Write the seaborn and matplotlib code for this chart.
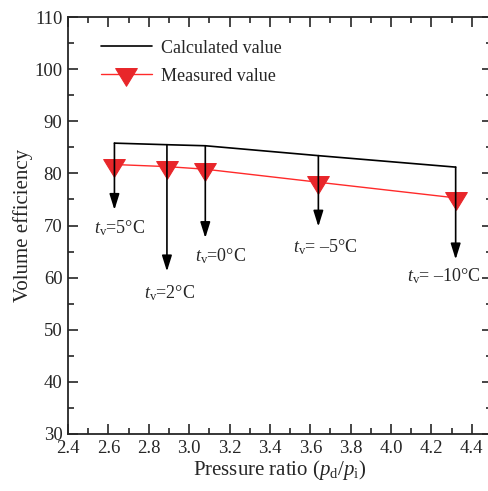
import matplotlib
matplotlib.use("Agg")
import matplotlib.pyplot as plt
import seaborn as sns
import pandas as pd
from matplotlib.path import Path

# Data
pressure_ratio = [2.63, 2.89, 3.08, 3.64, 4.32]
calculated = [85.8, 85.5, 85.3, 83.4, 81.2]
measured = [81.7, 81.3, 80.8, 78.3, 75.3]
arrow_tips = [73.0, 61.2, 67.6, 69.8, 63.5]
temp_labels = [r"$t_\mathrm{v}$=5°C", r"$t_\mathrm{v}$=2°C", r"$t_\mathrm{v}$=0°C",
               r"$t_\mathrm{v}$= –5°C", r"$t_\mathrm{v}$= –10°C"]
label_x = [2.53, 2.775, 3.03, 3.515, 4.08]
label_y = [69.5, 57.0, 64.1, 65.9, 60.2]

x_ticks = [2.4, 2.6, 2.8, 3.0, 3.2, 3.4, 3.6, 3.8, 4.0, 4.2, 4.4]
y_ticks = [30, 40, 50, 60, 70, 80, 90, 100, 110]

sns.set_style("ticks")
plt.rcParams["font.family"] = ["Liberation Serif", "DejaVu Serif"]
plt.rcParams["mathtext.fontset"] = "custom"
plt.rcParams["mathtext.rm"] = "Liberation Serif"
plt.rcParams["mathtext.it"] = "Liberation Serif:italic"

df = pd.DataFrame({"x": pressure_ratio, "calc": calculated, "meas": measured})

fig = plt.figure(figsize=(4.89, 4.91), dpi=100)
ax = fig.add_axes([68 / 489, 57 / 491, 424 / 489, 417 / 491])

# Downward triangle with its centroid on the data point
tri = Path([(-1, 0.55), (1, 0.55), (0, -1.09), (-1, 0.55)],
           [Path.MOVETO, Path.LINETO, Path.LINETO, Path.CLOSEPOLY])

sns.lineplot(data=df, x="x", y="calc", ax=ax, color="black", lw=1.2,
             label="Calculated value")
sns.lineplot(data=df, x="x", y="meas", ax=ax, color="#ff2a2a", lw=1.0,
             marker=tri, markersize=17, markerfacecolor="#e8262a",
             markeredgecolor="#e8262a", label="Measured value")

for x, top, tip, lab, lx, ly in zip(pressure_ratio, calculated, arrow_tips,
                                    temp_labels, label_x, label_y):
    ax.annotate("", xy=(x, tip), xytext=(x, top),
                arrowprops=dict(arrowstyle="-|>,head_length=0.8,head_width=0.25",
                                mutation_scale=12, color="black", lw=1.2,
                                shrinkA=0, shrinkB=0))
    ax.text(lx, ly, lab, fontsize=13, ha="left", va="center")

ax.set_xlim(2.4, 4.5)
ax.set_ylim(30, 110)
ax.set_xticks(x_ticks)
ax.set_xticklabels([f"{v:.1f}" for v in x_ticks])
ax.set_yticks(y_ticks)
ax.xaxis.set_minor_locator(matplotlib.ticker.MultipleLocator(0.1))
ax.yaxis.set_minor_locator(matplotlib.ticker.MultipleLocator(5))
ax.tick_params(which="both", direction="in", top=True, right=True,
               labelsize=13.5, width=1.2)
ax.tick_params(axis="x", pad=4)
ax.tick_params(axis="y", pad=4)
ax.tick_params(which="major", length=7)
ax.tick_params(which="minor", length=4)
for s in ax.spines.values():
    s.set_linewidth(1.3)
    s.set_visible(True)

ax.set_xlabel(r"Pressure ratio ($p_\mathrm{d}$/$p_\mathrm{i}$)", fontsize=15, labelpad=1)
ax.set_ylabel("Volume efficiency", fontsize=15, labelpad=1)

leg = ax.legend(loc="upper left", frameon=False, fontsize=13, handlelength=2.8,
                bbox_to_anchor=(0.04, 0.985), labelspacing=0.62, handletextpad=0.5)

fig.savefig("out.png", dpi=100)
